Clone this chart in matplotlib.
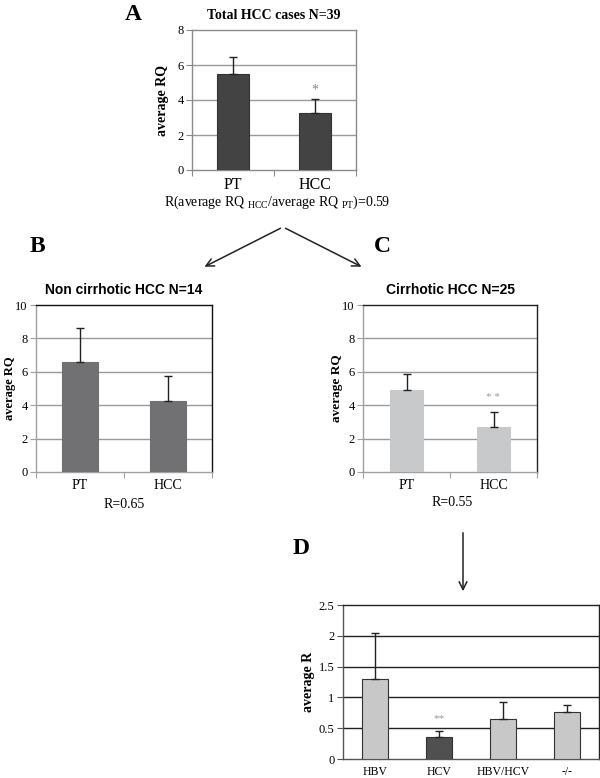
import matplotlib
matplotlib.use("Agg")
import matplotlib.pyplot as plt

plt.rcParams['font.family'] = ['Liberation Serif', 'DejaVu Serif']
plt.rcParams['mathtext.fontset'] = 'custom'
plt.rcParams['mathtext.rm'] = 'Liberation Serif'

# The data
cat_ab = ["PT", "HCC"]
a_vals = [5.5, 3.25]
a_err = [0.95, 0.8]
b_vals = [6.6, 4.25]
b_err = [2.05, 1.5]
c_vals = [4.9, 2.7]
c_err = [0.95, 0.9]
cat_d = ["HBV", "HCV", "HBV/HCV", "-/-"]
d_vals = [1.3, 0.35, 0.65, 0.77]
d_err = [0.75, 0.1, 0.27, 0.1]

W, H = 600, 778
fig = plt.figure(figsize=(6, 7.78), dpi=100)


def box(l, t, r, b):
    return [l / W, 1 - b / H, (r - l) / W, (b - t) / H]


def px(x, y):
    return x / W, 1 - y / H


def panel(ax, cats, vals, errs, color, ymax, ystep, grid_c, axis_c, frame_c,
          width, edge, tick_fs, xl_fs):
    x = list(range(len(cats)))
    ax.bar(x, vals, width=width, color=color, edgecolor=edge, linewidth=0.8,
           zorder=3)
    ax.errorbar(x, vals, yerr=[[0] * len(vals), errs], fmt="none",
                ecolor="#222222", elinewidth=1, capsize=3, capthick=1,
                zorder=4)
    ax.set_xlim(-0.5, len(cats) - 0.5)
    ax.set_ylim(0, ymax)
    yt = [i * ystep for i in range(int(round(ymax / ystep)) + 1)]
    ax.set_yticks(yt)
    ax.set_yticklabels([("%g" % v) for v in yt], fontsize=tick_fs)
    for v in yt[1:-1]:
        ax.axhline(v, color=grid_c, lw=1, zorder=1)
    ax.set_xticks([i - 0.5 for i in range(len(cats) + 1)])
    ax.set_xticklabels([])
    ax.set_xticks(x, minor=True)
    ax.set_xticklabels(cats, minor=True, fontsize=xl_fs)
    ax.tick_params(axis="x", which="minor", length=0, pad=5)
    ax.tick_params(axis="x", which="major", length=4, color=axis_c)
    ax.tick_params(axis="y", length=4, color=axis_c, pad=2)
    for side in ("left", "bottom"):
        ax.spines[side].set_color(axis_c)
    for side in ("top", "right"):
        ax.spines[side].set_color(frame_c)
    for s in ax.spines.values():
        s.set_linewidth(1)


# Panel A
axA = fig.add_axes(box(192, 30, 356, 170))
panel(axA, cat_ab, a_vals, a_err, "#434343", 8, 2, "#9a9a9a", "#8a8a8a",
      "#8a8a8a", 0.4, "#333333", 9, 11.5)
axA.set_ylabel("average RQ", fontsize=10, fontweight="bold", labelpad=6)
axA.set_title("Total HCC cases N=39", fontsize=10, fontweight="bold", pad=8)
axA.text(1, a_vals[1] + a_err[1] + 0.3, "*", ha="center", fontsize=10,
         color="#888888")
fig.text(*px(277, 202), r"R(average RQ $_{\mathrm{HCC}}$/average RQ $_{\mathrm{PT}}$)=0.59",
         ha="center", va="center", fontsize=10)

# Panel B
axB = fig.add_axes(box(36, 305, 212, 472))
panel(axB, cat_ab, b_vals, b_err, "#717174", 10, 2, "#9a9a9a", "#a0a0a0",
      "#111111", 0.4, "#717174", 9, 10)
axB.set_ylabel("average RQ", fontsize=9, fontweight="bold")
axB.yaxis.set_label_coords(-0.115, 0.5)
axB.set_title("Non cirrhotic HCC N=14", fontsize=10, fontweight="bold",
              family=["Liberation Sans"], pad=8)
fig.text(*px(124, 505), "R=0.65", ha="center", va="center", fontsize=10)

# Panel C
axC = fig.add_axes(box(363, 305, 537, 472))
panel(axC, cat_ab, c_vals, c_err, "#c8c9cb", 10, 2, "#9a9a9a", "#a0a0a0",
      "#222222", 0.38, "#c8c9cb", 9, 10)
axC.set_ylabel("average RQ", fontsize=9.5, fontweight="bold")
axC.yaxis.set_label_coords(-0.115, 0.5)
axC.set_title("Cirrhotic HCC N=25", fontsize=10, fontweight="bold",
              family=["Liberation Sans"], pad=8)
axC.text(1, c_vals[1] + c_err[1] + 0.7, "* *", ha="center", fontsize=8,
         color="#999999")
fig.text(*px(452, 503), "R=0.55", ha="center", va="center", fontsize=10)

# Panel D
axD = fig.add_axes(box(343, 605, 599, 759))
panel(axD, cat_d, d_vals, d_err, "#c8c8c8", 2.5, 0.5, "#222222", "#555555",
      "#222222", 0.41, "#333333", 9, 8.5)
axD.patches[1].set_facecolor("#505050")
axD.tick_params(axis="x", which="major", length=0)
axD.set_ylabel("average R", fontsize=10, fontweight="bold")
axD.yaxis.set_label_coords(-0.11, 0.5)
axD.text(1, 0.62, "**", ha="center", fontsize=8, color="#999999")

# Panel letters
for letter, (lx, ly) in zip("ABCD", [(133, 14), (37, 246), (382, 246), (301, 549)]):
    fig.text(*px(lx, ly), letter, ha="center", va="center", fontsize=17,
             fontweight="bold")

# Arrows
arrow = dict(arrowstyle="->", color="#222222", lw=1.1, mutation_scale=14)
fig.add_artist(matplotlib.patches.FancyArrowPatch(
    px(283, 227), px(202, 268), transform=fig.transFigure, **arrow))
fig.add_artist(matplotlib.patches.FancyArrowPatch(
    px(283, 227), px(364, 268), transform=fig.transFigure, **arrow))
fig.add_artist(matplotlib.patches.FancyArrowPatch(
    px(463, 530), px(463, 594), transform=fig.transFigure, **arrow))

fig.savefig("out.png", dpi=100)
